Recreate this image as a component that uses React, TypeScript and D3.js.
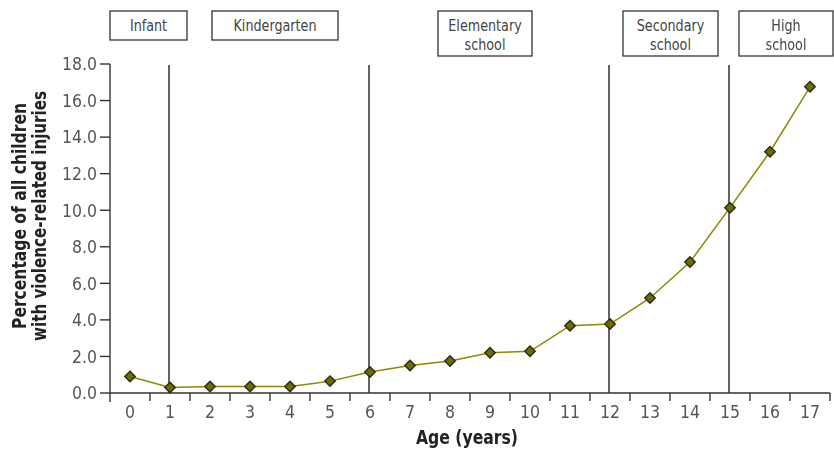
import React from 'react';
import * as d3 from 'd3';

const ages = [0, 1, 2, 3, 4, 5, 6, 7, 8, 9, 10, 11, 12, 13, 14, 15, 16, 17];
const injuryPct = [0.9, 0.3, 0.35, 0.35, 0.35, 0.65, 1.15, 1.5, 1.75, 2.2, 2.28, 3.68, 3.77, 5.2, 7.17, 10.14, 13.2, 16.75];
const yTicks = [0, 2, 4, 6, 8, 10, 12, 14, 16, 18];
const stageAges = [1, 6, 12, 15];
const stageLabels = [
  { lines: ['Infant'], x0: 110, x1: 187 },
  { lines: ['Kindergarten'], x0: 212, x1: 338 },
  { lines: ['Elementary', 'school'], x0: 438, x1: 532 },
  { lines: ['Secondary', 'school'], x0: 623, x1: 718 },
  { lines: ['High', 'school'], x0: 739, x1: 833 },
];

const W = 834;
const H = 452;
const FONT = '"DejaVu Sans Condensed", "Liberation Sans Narrow", "Roboto", sans-serif';

export default function App() {
  const x = d3.scaleBand<number>().domain(ages).range([110, 830]);
  const y = d3.scaleLinear().domain([0, 18]).range([393, 64]);
  const cx = (a: number) => (x(a) ?? 0) + x.bandwidth() / 2;

  const line = d3.line<number>()
    .x((_, i) => cx(ages[i]))
    .y((d) => y(d));

  const diamond = d3.symbol().type(d3.symbolDiamond2).size(70)();

  return (
    <svg width={W} height={H} style={{ position: 'fixed', left: 0, top: 0, fontFamily: FONT }}>
      {/* stage boxes */}
      {stageLabels.map((s, i) => {
        const h = s.lines.length > 1 ? 45 : 29;
        return (
          <g key={i}>
            <rect x={s.x0} y={11} width={s.x1 - s.x0} height={h} fill="#fff" stroke="#333" strokeWidth={1.3} />
            {s.lines.map((t, j) => (
              <text key={j} transform={`translate(${(s.x0 + s.x1) / 2},${30.5 + j * 19}) scale(0.86,1)`}
                textAnchor="middle" fontSize={16.5} fill="#444">{t}</text>
            ))}
          </g>
        );
      })}

      {/* stage dividers */}
      {stageAges.map((a) => (
        <line key={a} x1={cx(a) - 1} x2={cx(a) - 1} y1={65} y2={393} stroke="#222" strokeWidth={1.4} />
      ))}

      {/* y axis */}
      <line x1={110} x2={110} y1={y(18)} y2={393} stroke="#333" strokeWidth={1.4} />
      {yTicks.map((t) => (
        <g key={t}>
          <line x1={100} x2={110} y1={y(t)} y2={y(t)} stroke="#333" strokeWidth={1.4} />
          <text x={97} y={y(t)} dy="0.36em" textAnchor="end" fontSize={17.5} fill="#555">{t.toFixed(1)}</text>
        </g>
      ))}

      {/* x axis */}
      <line x1={110} x2={830} y1={393} y2={393} stroke="#333" strokeWidth={1.4} />
      {[...ages.map((a) => x(a) ?? 0), 830].map((px, i) => (
        <line key={i} x1={px} x2={px} y1={393} y2={i === 0 ? 402 : 401} stroke="#333" strokeWidth={1.4} />
      ))}
      {ages.map((a) => (
        <text key={a} x={cx(a)} y={418} textAnchor="middle" fontSize={17.5} fill="#555">{a}</text>
      ))}

      {/* data line and markers */}
      <path d={line(injuryPct) ?? ''} fill="none" stroke="#8b8a00" strokeWidth={1.5} />
      {injuryPct.map((v, i) => (
        <path key={i} d={diamond ?? ''} transform={`translate(${cx(ages[i])},${y(v)})`} fill="#6e6b00" stroke="#2a2a1a" strokeWidth={1.4} />
      ))}

      {/* axis titles */}
      <text x={467} y={444} textAnchor="middle" fontSize={20} fontWeight="bold" fill="#222"
        textLength={102} lengthAdjust="spacingAndGlyphs">Age (years)</text>
      <text transform="translate(26,216) rotate(-90)" textAnchor="middle" fontSize={20} fontWeight="bold" fill="#222">
        <tspan x={0} dy={0} textLength={226} lengthAdjust="spacingAndGlyphs">Percentage of all children</tspan>
        <tspan x={0} dy={20} textLength={250} lengthAdjust="spacingAndGlyphs">with violence-related injuries</tspan>
      </text>
    </svg>
  );
}
